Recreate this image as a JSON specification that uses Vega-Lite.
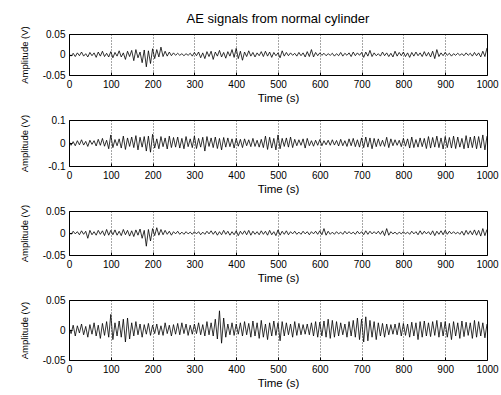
{
  "$schema": "https://vega.github.io/schema/vega-lite/v6.json",
  "padding": {"left": 18, "top": 12, "right": 0, "bottom": 0},
  "background": "white",
  "spacing": 45,
  "bounds": "flush",
  "data": {"values": [
{"t":0,"a":0.002,"b":0.008,"c":0.002,"d":0.004},
{"t":5,"a":-0.004,"b":-0.010,"c":-0.003,"d":-0.006},
{"t":10,"a":0.003,"b":0.006,"c":0.004,"d":0.008},
{"t":15,"a":-0.005,"b":-0.012,"c":-0.002,"d":-0.010},
{"t":20,"a":0.004,"b":0.010,"c":0.003,"d":0.007},
{"t":25,"a":-0.003,"b":-0.008,"c":-0.004,"d":-0.005},
{"t":30,"a":0.006,"b":0.014,"c":0.005,"d":0.010},
{"t":35,"a":-0.004,"b":-0.009,"c":-0.003,"d":-0.008},
{"t":40,"a":0.002,"b":0.007,"c":0.004,"d":0.006},
{"t":45,"a":-0.006,"b":-0.015,"c":-0.012,"d":-0.012},
{"t":50,"a":0.005,"b":0.012,"c":0.006,"d":0.009},
{"t":55,"a":-0.003,"b":-0.006,"c":-0.004,"d":-0.007},
{"t":60,"a":0.004,"b":0.010,"c":0.003,"d":0.012},
{"t":65,"a":-0.007,"b":-0.013,"c":-0.005,"d":-0.010},
{"t":70,"a":0.006,"b":0.016,"c":0.006,"d":0.008},
{"t":75,"a":-0.004,"b":-0.010,"c":-0.003,"d":-0.014},
{"t":80,"a":0.008,"b":0.020,"c":0.005,"d":0.011},
{"t":85,"a":-0.005,"b":-0.014,"c":-0.006,"d":-0.009},
{"t":90,"a":0.003,"b":0.012,"c":0.008,"d":0.014},
{"t":95,"a":-0.006,"b":-0.025,"c":-0.005,"d":-0.012},
{"t":100,"a":0.007,"b":0.035,"c":0.006,"d":0.026},
{"t":105,"a":-0.008,"b":-0.020,"c":-0.004,"d":-0.016},
{"t":110,"a":0.005,"b":0.015,"c":0.007,"d":0.012},
{"t":115,"a":-0.004,"b":-0.012,"c":-0.005,"d":-0.010},
{"t":120,"a":0.009,"b":0.018,"c":0.004,"d":0.015},
{"t":125,"a":-0.006,"b":-0.022,"c":-0.006,"d":-0.012},
{"t":130,"a":0.004,"b":0.030,"c":0.008,"d":0.018},
{"t":135,"a":-0.012,"b":-0.028,"c":-0.004,"d":-0.020},
{"t":140,"a":0.008,"b":0.022,"c":0.006,"d":0.020},
{"t":145,"a":-0.005,"b":-0.015,"c":-0.007,"d":-0.015},
{"t":150,"a":0.010,"b":0.026,"c":0.005,"d":0.012},
{"t":155,"a":-0.015,"b":-0.020,"c":-0.008,"d":-0.010},
{"t":160,"a":0.012,"b":0.032,"c":0.007,"d":0.014},
{"t":165,"a":-0.008,"b":-0.030,"c":-0.005,"d":-0.008},
{"t":170,"a":0.006,"b":0.025,"c":0.009,"d":0.010},
{"t":175,"a":-0.020,"b":-0.018,"c":-0.012,"d":-0.012},
{"t":180,"a":0.011,"b":0.028,"c":0.006,"d":0.009},
{"t":185,"a":-0.030,"b":-0.035,"c":-0.030,"d":-0.007},
{"t":190,"a":0.009,"b":0.030,"c":0.008,"d":0.011},
{"t":195,"a":-0.022,"b":-0.040,"c":-0.018,"d":-0.009},
{"t":200,"a":0.014,"b":0.038,"c":0.010,"d":0.008},
{"t":205,"a":-0.010,"b":-0.022,"c":-0.006,"d":-0.006},
{"t":210,"a":0.012,"b":0.018,"c":0.012,"d":0.010},
{"t":215,"a":-0.006,"b":-0.025,"c":-0.005,"d":-0.008},
{"t":220,"a":0.018,"b":0.028,"c":0.008,"d":0.007},
{"t":225,"a":-0.005,"b":-0.016,"c":-0.004,"d":-0.009},
{"t":230,"a":0.008,"b":0.022,"c":0.006,"d":0.012},
{"t":235,"a":-0.004,"b":-0.026,"c":-0.003,"d":-0.006},
{"t":240,"a":0.006,"b":0.030,"c":0.004,"d":0.008},
{"t":245,"a":-0.003,"b":-0.020,"c":-0.005,"d":-0.010},
{"t":250,"a":0.004,"b":0.024,"c":0.003,"d":0.009},
{"t":255,"a":-0.002,"b":-0.018,"c":-0.002,"d":-0.007},
{"t":260,"a":0.003,"b":0.026,"c":0.004,"d":0.011},
{"t":265,"a":-0.002,"b":-0.022,"c":-0.003,"d":-0.008},
{"t":270,"a":0.002,"b":0.020,"c":0.002,"d":0.012},
{"t":275,"a":-0.003,"b":-0.025,"c":-0.003,"d":-0.006},
{"t":280,"a":0.002,"b":0.028,"c":0.003,"d":0.010},
{"t":285,"a":-0.002,"b":-0.016,"c":-0.002,"d":-0.009},
{"t":290,"a":0.003,"b":0.018,"c":0.002,"d":0.008},
{"t":295,"a":-0.004,"b":-0.020,"c":-0.003,"d":-0.007},
{"t":300,"a":0.005,"b":0.030,"c":0.003,"d":0.010},
{"t":305,"a":-0.003,"b":-0.024,"c":-0.002,"d":-0.006},
{"t":310,"a":0.006,"b":0.020,"c":0.003,"d":0.012},
{"t":315,"a":-0.008,"b":-0.018,"c":-0.004,"d":-0.008},
{"t":320,"a":0.004,"b":0.025,"c":0.002,"d":0.009},
{"t":325,"a":-0.010,"b":-0.035,"c":-0.003,"d":-0.010},
{"t":330,"a":0.007,"b":0.028,"c":0.004,"d":0.014},
{"t":335,"a":-0.005,"b":-0.015,"c":-0.002,"d":-0.008},
{"t":340,"a":0.008,"b":0.022,"c":0.005,"d":0.012},
{"t":345,"a":-0.012,"b":-0.020,"c":-0.003,"d":-0.010},
{"t":350,"a":0.006,"b":0.026,"c":0.004,"d":0.018},
{"t":355,"a":-0.004,"b":-0.024,"c":-0.005,"d":-0.015},
{"t":360,"a":0.010,"b":0.020,"c":0.003,"d":0.032},
{"t":365,"a":-0.006,"b":-0.030,"c":-0.004,"d":-0.022},
{"t":370,"a":0.005,"b":0.024,"c":0.006,"d":0.020},
{"t":375,"a":-0.009,"b":-0.018,"c":-0.003,"d":-0.012},
{"t":380,"a":0.007,"b":0.022,"c":0.004,"d":0.010},
{"t":385,"a":-0.004,"b":-0.016,"c":-0.005,"d":-0.008},
{"t":390,"a":0.012,"b":0.018,"c":0.003,"d":0.012},
{"t":395,"a":-0.007,"b":-0.022,"c":-0.004,"d":-0.009},
{"t":400,"a":0.015,"b":0.020,"c":0.005,"d":0.010},
{"t":405,"a":-0.010,"b":-0.014,"c":-0.006,"d":-0.007},
{"t":410,"a":0.008,"b":0.016,"c":0.004,"d":0.012},
{"t":415,"a":-0.014,"b":-0.020,"c":-0.003,"d":-0.010},
{"t":420,"a":0.006,"b":0.018,"c":0.005,"d":0.014},
{"t":425,"a":-0.005,"b":-0.012,"c":-0.004,"d":-0.008},
{"t":430,"a":0.009,"b":0.014,"c":0.006,"d":0.011},
{"t":435,"a":-0.004,"b":-0.016,"c":-0.005,"d":-0.012},
{"t":440,"a":0.005,"b":0.020,"c":0.004,"d":0.015},
{"t":445,"a":-0.006,"b":-0.015,"c":-0.003,"d":-0.010},
{"t":450,"a":0.004,"b":0.012,"c":0.003,"d":0.012},
{"t":455,"a":-0.003,"b":-0.018,"c":-0.004,"d":-0.014},
{"t":460,"a":0.007,"b":0.016,"c":0.005,"d":0.016},
{"t":465,"a":-0.005,"b":-0.020,"c":-0.003,"d":-0.012},
{"t":470,"a":0.008,"b":0.030,"c":0.004,"d":0.010},
{"t":475,"a":-0.004,"b":-0.028,"c":-0.005,"d":-0.016},
{"t":480,"a":0.006,"b":0.025,"c":0.006,"d":0.012},
{"t":485,"a":-0.007,"b":-0.022,"c":-0.004,"d":-0.010},
{"t":490,"a":0.005,"b":0.020,"c":0.003,"d":0.015},
{"t":495,"a":-0.003,"b":-0.030,"c":-0.006,"d":-0.009},
{"t":500,"a":0.004,"b":0.035,"c":0.007,"d":0.012},
{"t":505,"a":-0.008,"b":-0.025,"c":-0.005,"d":-0.018},
{"t":510,"a":0.009,"b":0.020,"c":0.004,"d":0.014},
{"t":515,"a":-0.004,"b":-0.015,"c":-0.003,"d":-0.010},
{"t":520,"a":0.005,"b":0.022,"c":0.005,"d":0.012},
{"t":525,"a":-0.003,"b":-0.018,"c":-0.004,"d":-0.008},
{"t":530,"a":0.004,"b":0.026,"c":0.003,"d":0.010},
{"t":535,"a":-0.002,"b":-0.020,"c":-0.002,"d":-0.012},
{"t":540,"a":0.003,"b":0.016,"c":0.004,"d":0.014},
{"t":545,"a":-0.004,"b":-0.012,"c":-0.003,"d":-0.009},
{"t":550,"a":0.005,"b":0.014,"c":0.002,"d":0.011},
{"t":555,"a":-0.003,"b":-0.010,"c":-0.003,"d":-0.008},
{"t":560,"a":0.004,"b":0.018,"c":0.004,"d":0.009},
{"t":565,"a":-0.006,"b":-0.022,"c":-0.002,"d":-0.007},
{"t":570,"a":0.007,"b":0.020,"c":0.003,"d":0.010},
{"t":575,"a":-0.005,"b":-0.012,"c":-0.004,"d":-0.008},
{"t":580,"a":0.012,"b":0.010,"c":0.003,"d":0.012},
{"t":585,"a":-0.006,"b":-0.014,"c":-0.002,"d":-0.010},
{"t":590,"a":0.005,"b":0.012,"c":0.004,"d":0.014},
{"t":595,"a":-0.003,"b":-0.010,"c":-0.003,"d":-0.012},
{"t":600,"a":0.004,"b":0.015,"c":0.005,"d":0.013},
{"t":605,"a":-0.002,"b":-0.012,"c":-0.004,"d":-0.010},
{"t":610,"a":0.003,"b":0.010,"c":0.010,"d":0.015},
{"t":615,"a":-0.003,"b":-0.008,"c":-0.005,"d":-0.012},
{"t":620,"a":0.002,"b":0.012,"c":0.004,"d":0.018},
{"t":625,"a":-0.002,"b":-0.010,"c":-0.003,"d":-0.014},
{"t":630,"a":0.003,"b":0.014,"c":0.002,"d":0.016},
{"t":635,"a":-0.004,"b":-0.009,"c":-0.003,"d":-0.012},
{"t":640,"a":0.002,"b":0.011,"c":0.003,"d":0.014},
{"t":645,"a":-0.003,"b":-0.013,"c":-0.002,"d":-0.010},
{"t":650,"a":0.005,"b":0.016,"c":0.002,"d":0.012},
{"t":655,"a":-0.004,"b":-0.012,"c":-0.003,"d":-0.008},
{"t":660,"a":0.003,"b":0.010,"c":0.004,"d":0.010},
{"t":665,"a":-0.002,"b":-0.015,"c":-0.002,"d":-0.012},
{"t":670,"a":0.004,"b":0.018,"c":0.003,"d":0.014},
{"t":675,"a":-0.005,"b":-0.012,"c":-0.002,"d":-0.010},
{"t":680,"a":0.006,"b":0.020,"c":0.002,"d":0.016},
{"t":685,"a":-0.003,"b":-0.016,"c":-0.003,"d":-0.012},
{"t":690,"a":0.004,"b":0.014,"c":0.004,"d":0.020},
{"t":695,"a":-0.002,"b":-0.018,"c":-0.002,"d":-0.016},
{"t":700,"a":0.005,"b":0.022,"c":0.003,"d":0.018},
{"t":705,"a":-0.007,"b":-0.020,"c":-0.004,"d":-0.020},
{"t":710,"a":0.006,"b":0.026,"c":0.005,"d":0.022},
{"t":715,"a":-0.004,"b":-0.018,"c":-0.003,"d":-0.018},
{"t":720,"a":0.010,"b":0.022,"c":0.004,"d":0.016},
{"t":725,"a":-0.005,"b":-0.025,"c":-0.002,"d":-0.012},
{"t":730,"a":0.004,"b":0.020,"c":0.003,"d":0.014},
{"t":735,"a":-0.003,"b":-0.016,"c":-0.002,"d":-0.016},
{"t":740,"a":0.002,"b":0.018,"c":0.004,"d":0.012},
{"t":745,"a":-0.004,"b":-0.014,"c":-0.003,"d":-0.010},
{"t":750,"a":0.006,"b":0.012,"c":0.005,"d":0.011},
{"t":755,"a":-0.003,"b":-0.015,"c":-0.006,"d":-0.012},
{"t":760,"a":0.004,"b":0.025,"c":0.010,"d":0.010},
{"t":765,"a":-0.005,"b":-0.020,"c":-0.005,"d":-0.008},
{"t":770,"a":0.003,"b":0.018,"c":0.003,"d":0.009},
{"t":775,"a":-0.006,"b":-0.012,"c":-0.002,"d":-0.007},
{"t":780,"a":0.008,"b":0.014,"c":0.002,"d":0.010},
{"t":785,"a":-0.004,"b":-0.010,"c":-0.003,"d":-0.008},
{"t":790,"a":0.005,"b":0.012,"c":0.002,"d":0.012},
{"t":795,"a":-0.003,"b":-0.016,"c":-0.002,"d":-0.010},
{"t":800,"a":0.006,"b":0.020,"c":0.003,"d":0.011},
{"t":805,"a":-0.005,"b":-0.014,"c":-0.002,"d":-0.009},
{"t":810,"a":0.004,"b":0.018,"c":0.002,"d":0.010},
{"t":815,"a":-0.007,"b":-0.022,"c":-0.003,"d":-0.012},
{"t":820,"a":0.005,"b":0.026,"c":0.004,"d":0.013},
{"t":825,"a":-0.004,"b":-0.020,"c":-0.002,"d":-0.010},
{"t":830,"a":0.006,"b":0.015,"c":0.003,"d":0.012},
{"t":835,"a":-0.003,"b":-0.018,"c":-0.004,"d":-0.016},
{"t":840,"a":0.004,"b":0.022,"c":0.005,"d":0.014},
{"t":845,"a":-0.005,"b":-0.016,"c":-0.003,"d":-0.012},
{"t":850,"a":0.007,"b":0.020,"c":0.004,"d":0.015},
{"t":855,"a":-0.004,"b":-0.024,"c":-0.002,"d":-0.010},
{"t":860,"a":0.005,"b":0.028,"c":0.003,"d":0.012},
{"t":865,"a":-0.006,"b":-0.022,"c":-0.004,"d":-0.011},
{"t":870,"a":0.008,"b":0.024,"c":0.005,"d":0.014},
{"t":875,"a":-0.010,"b":-0.018,"c":-0.006,"d":-0.009},
{"t":880,"a":0.012,"b":0.030,"c":0.004,"d":0.016},
{"t":885,"a":-0.005,"b":-0.020,"c":-0.003,"d":-0.012},
{"t":890,"a":0.004,"b":0.022,"c":0.005,"d":0.013},
{"t":895,"a":-0.003,"b":-0.026,"c":-0.004,"d":-0.010},
{"t":900,"a":0.005,"b":0.028,"c":0.006,"d":0.014},
{"t":905,"a":-0.002,"b":-0.020,"c":-0.003,"d":-0.012},
{"t":910,"a":0.003,"b":0.024,"c":0.004,"d":0.011},
{"t":915,"a":-0.004,"b":-0.022,"c":-0.002,"d":-0.016},
{"t":920,"a":0.002,"b":0.030,"c":0.003,"d":0.014},
{"t":925,"a":-0.002,"b":-0.024,"c":-0.002,"d":-0.010},
{"t":930,"a":0.003,"b":0.026,"c":0.002,"d":0.012},
{"t":935,"a":-0.002,"b":-0.018,"c":-0.003,"d":-0.014},
{"t":940,"a":0.002,"b":0.020,"c":0.004,"d":0.015},
{"t":945,"a":-0.003,"b":-0.025,"c":-0.005,"d":-0.011},
{"t":950,"a":0.004,"b":0.032,"c":0.006,"d":0.013},
{"t":955,"a":-0.002,"b":-0.022,"c":-0.003,"d":-0.009},
{"t":960,"a":0.003,"b":0.026,"c":0.005,"d":0.012},
{"t":965,"a":-0.004,"b":-0.020,"c":-0.004,"d":-0.014},
{"t":970,"a":0.005,"b":0.030,"c":0.007,"d":0.016},
{"t":975,"a":-0.003,"b":-0.025,"c":-0.005,"d":-0.012},
{"t":980,"a":0.004,"b":0.028,"c":0.006,"d":0.014},
{"t":985,"a":-0.006,"b":-0.022,"c":-0.007,"d":-0.010},
{"t":990,"a":0.008,"b":0.035,"c":0.010,"d":0.012},
{"t":995,"a":-0.005,"b":-0.030,"c":-0.006,"d":-0.013},
{"t":1000,"a":0.016,"b":0.030,"c":0.008,"d":0.010}
  ]},
  "vconcat": [
    {
      "width": 418, "height": 41,
      "title": {"text": "AE signals from normal cylinder", "fontSize": 13, "fontWeight": "normal", "offset": 0, "color": "black", "frame": "group"},
      "mark": {"type": "line", "color": "black", "strokeWidth": 0.8, "clip": true},
      "encoding": {
        "x": {"field": "t", "type": "quantitative", "scale": {"domain": [0, 1000], "nice": false},
              "axis": {"values": [0,100,200,300,400,500,600,700,800,900,1000], "format": "d", "title": "Time (s)"}},
        "y": {"field": "a", "type": "quantitative", "scale": {"domain": [-0.05, 0.05], "nice": false},
              "axis": {"values": [-0.05, 0, 0.05], "labelExpr": "datum.value > 0.01 ? '0.05' : datum.value < -0.01 ? '-0.05' : '0'", "title": "Amplitude (V)", "titleY": 20.5}}
      }
    },
    {
      "width": 418, "height": 46,
      "mark": {"type": "line", "color": "black", "strokeWidth": 0.8, "clip": true},
      "encoding": {
        "x": {"field": "t", "type": "quantitative", "scale": {"domain": [0, 1000], "nice": false},
              "axis": {"values": [0,100,200,300,400,500,600,700,800,900,1000], "format": "d", "title": "Time (s)"}},
        "y": {"field": "b", "type": "quantitative", "scale": {"domain": [-0.1, 0.1], "nice": false},
              "axis": {"values": [-0.1, 0, 0.1], "labelExpr": "datum.value > 0.01 ? '0.1' : datum.value < -0.01 ? '-0.1' : '0'", "title": "Amplitude (V)", "titleY": 23}}
      }
    },
    {
      "width": 418, "height": 44,
      "mark": {"type": "line", "color": "black", "strokeWidth": 0.8, "clip": true},
      "encoding": {
        "x": {"field": "t", "type": "quantitative", "scale": {"domain": [0, 1000], "nice": false},
              "axis": {"values": [0,100,200,300,400,500,600,700,800,900,1000], "format": "d", "title": "Time (s)"}},
        "y": {"field": "c", "type": "quantitative", "scale": {"domain": [-0.05, 0.05], "nice": false},
              "axis": {"values": [-0.05, 0, 0.05], "labelExpr": "datum.value > 0.01 ? '0.05' : datum.value < -0.01 ? '-0.05' : '0'", "title": "Amplitude (V)", "titleY": 22}}
      }
    },
    {
      "width": 418, "height": 60,
      "mark": {"type": "line", "color": "black", "strokeWidth": 0.8, "clip": true},
      "encoding": {
        "x": {"field": "t", "type": "quantitative", "scale": {"domain": [0, 1000], "nice": false},
              "axis": {"values": [0,100,200,300,400,500,600,700,800,900,1000], "format": "d", "title": "Time (s)"}},
        "y": {"field": "d", "type": "quantitative", "scale": {"domain": [-0.05, 0.05], "nice": false},
              "axis": {"values": [-0.05, 0, 0.05], "labelExpr": "datum.value > 0.01 ? '0.05' : datum.value < -0.01 ? '-0.05' : '0'", "title": "Amplitude (V)", "titleY": 30}}
      }
    }
  ],
  "config": {
    "font": "Liberation Sans",
    "view": {"stroke": "black", "strokeWidth": 1},
    "axis": {
      "domain": false, "tickColor": "black", "tickSize": -3, "labelPadding": 7,
      "labelColor": "black", "labelFontSize": 10, "labelOverlap": false, "labelFlush": false,
      "titleColor": "black", "titleFontSize": 11.5, "titleFontWeight": "normal", "grid": false
    },
    "axisX": {"grid": true, "gridColor": "black", "gridDash": [1, 2], "gridWidth": 0.7, "titlePadding": 3},
    "axisY": {"titleX": -40, "titleBaseline": "bottom", "titleAlign": "center", "titleAngle": -90, "titleFontSize": 9.5}
  }
}
